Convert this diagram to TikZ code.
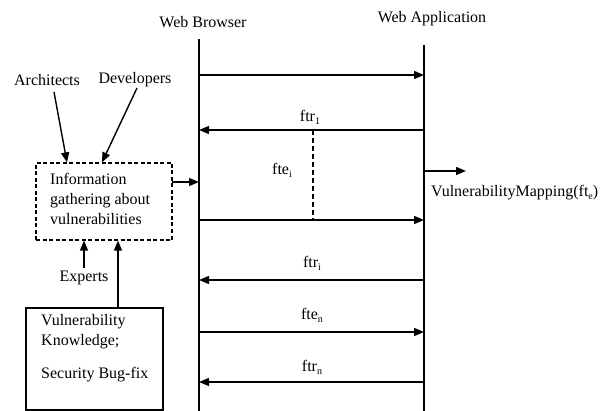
\documentclass[tikz,border=0pt]{standalone}
\usepackage{fontspec}
\setmainfont{Liberation Serif}
\usetikzlibrary{arrows.meta,calc}
\newcommand{\sub}[1]{\raisebox{-3pt}{\fontsize{10}{10}\selectfont #1}}
\begin{document}
\begin{tikzpicture}[x=1pt,y=-1pt,
  lbl/.style={font=\fontsize{16}{20}\selectfont, inner sep=0pt},
  lifeline/.style={line width=2.4pt},
  msg/.style={line width=1.4pt,-{Triangle[length=10pt,width=8pt]}},
  box/.style={draw,line width=1.2pt,inner sep=0pt},
]
\useasboundingbox (0,0) rectangle (609,411);
\fill[white] (0,0) rectangle (609,411);

% lifelines
\coordinate (bTop) at (199,39);  \coordinate (bBot) at (199,411);
\coordinate (aTop) at (424,45);  \coordinate (aBot) at (424,411);
\draw[lifeline] (bTop) -- (bBot);
\draw[lifeline] (aTop) -- (aBot);
\node[lbl] (bName) at (203,22) {Web Browser};
\node[lbl] (aName) at (432,19) {Web Application};

% messages between browser and application
\foreach \n/\y in {1/75,2/130,3/220,4/280,5/332,6/382}{
  \coordinate (b\n) at (199,\y);
  \coordinate (a\n) at (424,\y);
}
\draw[msg] (b1) -- (a1);
\draw[msg] (a2) -- (b2);
\draw[msg] (b3) -- (a3);
\draw[msg] (a4) -- (b4);
\draw[msg] (b5) -- (a5);
\draw[msg] (a6) -- (b6);

% exchange span
\coordinate (spanTop) at (313,130);
\coordinate (spanBot) at (313,220);
\draw[line width=1.2pt,dash pattern=on 5pt off 3pt] (spanTop) -- (spanBot);

\node[lbl] (ftr1) at (310,117) {ftr\sub{1}};
\node[lbl] (ftei) at (282,170) {fte\sub{i}};
\node[lbl] (ftri) at (312,263) {ftr\sub{i}};
\node[lbl] (ften) at (312,315) {fte\sub{n}};
\node[lbl] (ftrn) at (312,367) {ftr\sub{n}};

% vulnerability mapping on the application side
\coordinate (vmStart) at (424,171);
\coordinate (vmEnd) at (466,171);
\draw[msg] (vmStart) -- (vmEnd);
\node[lbl,anchor=west] (vm) at (431,193) {VulnerabilityMapping(ft\sub{e})};

% information gathering box
\node[box,dashed,dash pattern=on 4pt off 2.5pt,minimum width=136pt,minimum height=77pt] (info) at (104,201.5) {};
\node[lbl,anchor=west,align=left] (infotext) at (50,199) {Information\\gathering about\\vulnerabilities};
\coordinate (infoOut) at (172,182);
\draw[msg] (infoOut) -- (bTop |- infoOut);

% contributors
\node[lbl] (arch) at (47,80) {Architects};
\node[lbl] (dev) at (135,80) {Developers};
\node[lbl] (exp) at (84,278) {Experts};
\coordinate (archTail) at (54,92);
\coordinate (devTail) at (137,88);
\draw[msg] (archTail) -- (info.north -| 67,0);
\draw[msg] (devTail) -- (info.north -| 102,0);
\draw[msg] ($(exp.north)+(0,-3)$) -- (info.south -| exp.north);

% knowledge box
\node[box,minimum width=137pt,minimum height=102pt] (kb) at (94.5,359) {};
\node[lbl,anchor=north west,align=left] (kbtext) at (41,314) {Vulnerability\\Knowledge;\\[13pt]Security Bug-fix};
\draw[msg] (kb.north -| 118,0) -- (info.south -| 118,0);
\end{tikzpicture}
\end{document}
